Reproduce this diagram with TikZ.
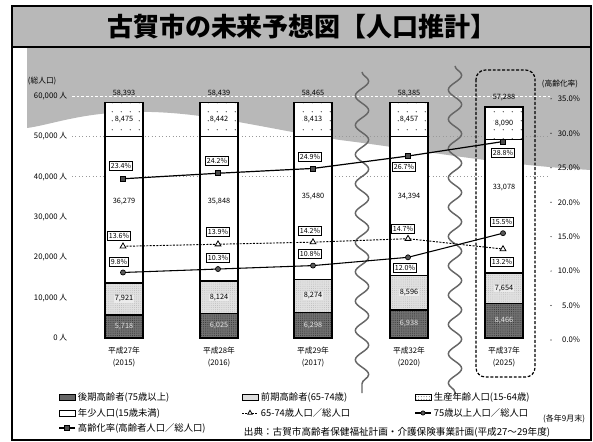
\documentclass[tikz,border=0pt]{standalone}
\usepackage{fontspec}
\setmainfont{Noto Sans CJK JP}
\usetikzlibrary{shapes.geometric,patterns.meta,decorations.pathmorphing}
\newcommand\fsz[1]{\fontsize{#1}{#1}\selectfont}
\def\cma{,}
\definecolor{halftone}{gray}{0.72}
\tikzset{
  barout/.style={line width=0.9pt},
  seglbl/.style={font=\fsz{5.5}, inner sep=0.5pt},
  pbox/.style={draw, line width=0.75pt, fill=white, font=\fsz{5.3}, inner sep=1.1pt},
  sqmark/.style={draw, rectangle, fill=black!70, minimum size=3.8pt, inner sep=0pt, line width=0.6pt},
  cirmark/.style={draw, circle, fill=black!65, minimum size=3.8pt, inner sep=0pt, line width=0.5pt},
  trimark/.style={draw, regular polygon, regular polygon sides=3, fill=white, minimum size=5pt, inner sep=0pt, line width=0.6pt},
  ratioline/.style={line width=0.8pt},
  ratiodash/.style={line width=0.7pt, dash pattern=on 1.5pt off 1pt},
  wavy/.style={line width=1.1pt, black!60, decorate, decoration={snake, amplitude=5pt, segment length=22pt}},
  axl/.style={font=\fsz{5.8}, inner sep=0.5pt},
  legtxt/.style={font=\fsz{7}, inner sep=0.5pt, anchor=west},
  swatch/.style={draw, line width=0.6pt, minimum width=12pt, minimum height=4.5pt, inner sep=0pt},
  grid60/.style={white, line width=0.6pt, dash pattern=on 2pt off 1.5pt},
  gridln/.style={black!40, line width=0.6pt, dotted},
  sparsedots/.style={pattern={Dots[distance=6.5pt,radius=0.5pt]}, pattern color=black!75},
}
\begin{document}
\begin{tikzpicture}[x=0.75pt,y=-0.75pt]
\useasboundingbox (0,0) rectangle (593,442);
\fill[white] (0,0) rectangle (593,442);
% halftone backgrounds
\fill[halftone] (12,7) rectangle (591,47);
\fill[halftone] (27,48) -- (591,48) -- (591,170) .. controls (500,165) and (420,150) .. (340,140) .. controls (260,128) and (200,110) .. (130,112) .. controls (80,113) and (50,125) .. (27,128) -- cycle;
\draw[line width=1.3pt] (12,6) rectangle (591,440);
\draw[line width=0.8pt] (12,47) -- (591,47);
\node[font=\fsz{19.5}\bfseries] (title) at (302,27) {古賀市の未来予想図【人口推計】};

% grid lines
\draw[grid60] (72,96.0) -- (550,96.0);
\draw[gridln] (72,136.4) -- (550,136.4);
\draw[gridln] (72,176.7) -- (550,176.7);

% left axis
\node[axl, anchor=west] (ltitle) at (27,81) {(総人口)};
\foreach \v/\t in {0/0,10/10\cma000,20/20\cma000,30/30\cma000,40/40\cma000,50/50\cma000,60/60\cma000}{
  \node[axl, anchor=east] (yl\v) at (68,{338-\v*4.033}) {\t\ 人};
}
% right axis
\node[axl] (rtitle) at (560,84) {(高齢化率)};
\foreach \p in {0,5,10,15,20,25,30,35}{
  \node[axl, anchor=east] (pr\p) at (581,{340-\p*6.89}) {\p.0\%};
  \fill (551,{340-\p*6.89}) circle (0.6);
}

% wavy break lines
\coordinate (wa1) at (362,72);
\coordinate (wa2) at (362,393);
\coordinate (wb1) at (455,66);
\coordinate (wb2) at (455,395);
\draw[wavy] (wa1) -- (wa2);
\draw[wavy] (wb1) -- (wb2);

% dashed highlight box
\draw[line width=0.9pt, dash pattern=on 2.2pt off 1.3pt, rounded corners=7pt] (476,70) rectangle (535,377);

% bars
\foreach \i/\xc/\vT/\vA/\vB/\vC/\vD/\tT/\tA/\tB/\tC/\tD/\my/\yr/\yy in {
1/124/58.393/8.475/36.279/7.921/5.718/58\cma393/8\cma475/36\cma279/7\cma921/5\cma718/202/27/2015,
2/219/58.439/8.442/35.848/8.124/6.025/58\cma439/8\cma442/35\cma848/8\cma124/6\cma025/202/28/2016,
3/313/58.465/8.413/35.480/8.274/6.298/58\cma465/8\cma413/35\cma480/8\cma274/6\cma298/197/29/2017,
4/409/58.385/8.457/34.394/8.596/6.938/58\cma385/8\cma457/34\cma394/8\cma596/6\cma938/197/32/2020,
5/504/57.288/8.090/33.078/7.654/8.466/57\cma288/8\cma090/33\cma078/7\cma654/8\cma466/188/37/2025}{
  \pgfmathsetmacro\ya{338-\vD*4.033}
  \pgfmathsetmacro\yb{\ya-\vC*4.033}
  \pgfmathsetmacro\yc{\yb-\vB*4.033}
  \pgfmathsetmacro\yd{338-\vT*4.033}
  \pgfmathsetmacro\xl{\xc-19}
  \pgfmathsetmacro\xr{\xc+19}
  \fill[white] (\xl,\yd) rectangle (\xr,\yc);
  \fill[sparsedots] (\xl,\yd) rectangle (\xr,\yc);
  \fill[white] (\xl,\yc) rectangle (\xr,\yb);
  \fill[black!12] (\xl,\yb) rectangle (\xr,\ya);
  \fill[pattern={Dots[distance=1.6pt,radius=0.3pt]}, pattern color=black!30] (\xl,\yb) rectangle (\xr,\ya);
  \fill[black!55] (\xl,\ya) rectangle (\xr,338);
  \fill[pattern={Dots[distance=1.4pt,radius=0.35pt]}, pattern color=black!80] (\xl,\ya) rectangle (\xr,338);
  \draw[barout] (\xl,\yd) rectangle (\xr,338);
  \draw[barout] (\xl,\yc) -- (\xr,\yc);
  \draw[barout] (\xl,\yb) -- (\xr,\yb);
  \draw[barout] (\xl,\ya) -- (\xr,\ya);
  \node[seglbl] (tot\i) at (\xc,\yd-9) {\tT};
  \node[seglbl, fill=white, inner sep=0.3pt] (yg\i) at (\xc,{(\yd+\yc)/2}) {\tA};
  \node[seglbl] (wk\i) at (\xc,\my) {\tB};
  \node[seglbl, fill=black!8, inner sep=0.3pt] (ea\i) at (\xc,{(\yb+\ya)/2}) {\tC};
  \node[seglbl, text=black!10] (lt\i) at (\xc,{(\ya+338)/2}) {\tD};
  \node[axl] (yr\i) at (\xc,351) {平成\yr 年};
  \node[axl] (ad\i) at (\xc,363) {(\yy)};
}

% ratio lines
\foreach \i/\xc/\pa/\pb/\pc in {1/123/23.4/13.6/9.8, 2/218/24.2/13.9/10.3, 3/313/24.9/14.2/10.8, 4/408/26.7/14.7/12.0, 5/503/28.8/13.2/15.5}{
  \coordinate (A\i) at (\xc,{340-\pa*6.89});
  \coordinate (B\i) at (\xc,{340-\pb*6.89});
  \coordinate (C\i) at (\xc,{340-\pc*6.89});
}
\draw[ratiodash] (B1) -- (B2) -- (B3) -- (B4) -- (B5);
\draw[ratioline] (C1) -- (C2) -- (C3) -- (C4) -- (C5);
\draw[ratioline, line width=0.9pt] (A1) -- (A2) -- (A3) -- (A4) -- (A5);
\foreach \i in {1,...,5}{
  \node[trimark] (mb\i) at (B\i) {};
  \node[cirmark] (mc\i) at (C\i) {};
  \node[sqmark] (ma\i) at (A\i) {};
}

% percentage boxes
\node[pbox] (pa1) at (121,166) {23.4\%};
\node[pbox] (pa2) at (217,161) {24.2\%};
\node[pbox] (pa3) at (310,157) {24.9\%};
\node[pbox] (pa4) at (404,167) {26.7\%};
\node[pbox] (pa5) at (503,153) {28.8\%};
\node[pbox] (pb1) at (119,236) {13.6\%};
\node[pbox] (pb2) at (218,232) {13.9\%};
\node[pbox] (pb3) at (310,231) {14.2\%};
\node[pbox] (pb4) at (403,229) {14.7\%};
\node[pbox] (pb5) at (502,262) {13.2\%};
\node[pbox] (pc1) at (119,262) {9.8\%};
\node[pbox] (pc2) at (218,258) {10.3\%};
\node[pbox] (pc3) at (310,254) {10.8\%};
\node[pbox] (pc4) at (405,268) {12.0\%};
\node[pbox] (pc5) at (502,222) {15.5\%};

% legend
\node[swatch, fill=black!60] (lg1) at (67,397) {};
\node[legtxt] (lx1) at (77,397) {後期高齢者(75歳以上)};
\node[swatch, fill=black!13] (lg2) at (250,397) {};
\node[legtxt] (lx2) at (260,397) {前期高齢者(65-74歳)};
\node[swatch, fill=white] (lg3b) at (423,397) {};
\node[swatch, sparsedots, pattern={Dots[distance=2pt,radius=0.35pt]}] (lg3) at (423,397) {};
\node[legtxt] (lx3) at (433,397) {生産年齢人口(15-64歳)};
\node[swatch, fill=white] (lg4) at (67,413) {};
\node[legtxt] (lx4) at (77,413) {年少人口(15歳未満)};
\coordinate (l5a) at (242,413);
\coordinate (l5b) at (258,413);
\draw[ratiodash] (l5a) -- (l5b);
\node[trimark, minimum size=4pt] (lm5) at (250,413) {};
\node[legtxt] (lx5) at (260,413) {65-74歳人口／総人口};
\coordinate (l6a) at (415,413);
\coordinate (l6b) at (431,413);
\draw[ratioline] (l6a) -- (l6b);
\node[cirmark, minimum size=3.2pt] (lm6) at (423,413) {};
\node[legtxt] (lx6) at (433,413) {75歳以上人口／総人口};
\coordinate (l7a) at (59,428);
\coordinate (l7b) at (75,428);
\draw[ratioline] (l7a) -- (l7b);
\node[sqmark, minimum size=3.2pt] (lm7) at (67,428) {};
\node[legtxt] (lx7) at (77,428) {高齢化率(高齢者人口／総人口)};
\node[font=\fsz{6}, anchor=east, inner sep=0.5pt] (note) at (586,419) {(各年9月末)};
\node[font=\fsz{7.2}, anchor=west, inner sep=0.5pt] (src) at (243,432) {出典：古賀市高齢者保健福祉計画・介護保険事業計画(平成27～29年度)};
\end{tikzpicture}
\end{document}
